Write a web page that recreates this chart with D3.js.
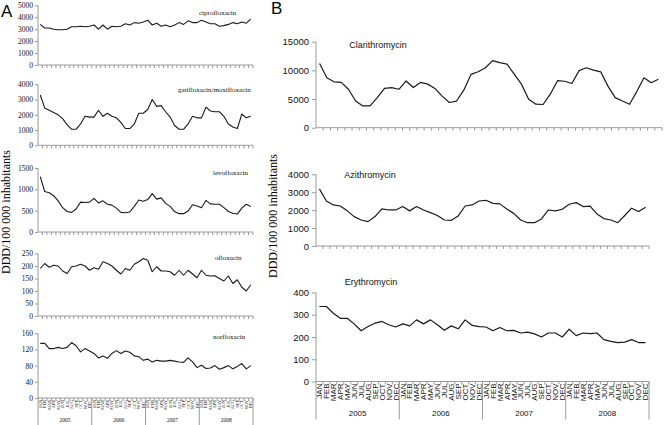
<!DOCTYPE html>
<html><head><meta charset="utf-8">
<script src="https://cdn.jsdelivr.net/npm/d3@7/dist/d3.min.js"></script>
<style>body{margin:0;background:#fff}svg{display:block}</style>
</head><body><svg id="c" width="664" height="425"></svg>
<script>
const monthNames = ["JAN","FEB","MAR","APR","MAY","JUN","JUL","AUG","SEP","OCT","NOV","DEC"];
const years = ["2005","2006","2007","2008"];
const months = years.flatMap(y => monthNames.map(m => m + "-" + y));

const cipro = [3400,3100,3100,3000,2950,2950,3000,3200,3200,3250,3200,3250,3350,3000,3350,3000,3250,3200,3250,3450,3350,3550,3500,3600,3750,3350,3500,3250,3350,3200,3350,3550,3400,3700,3550,3550,3750,3600,3450,3450,3250,3300,3400,3550,3450,3600,3500,3850];
const gati = [3300,2450,2300,2150,2000,1750,1350,1050,1050,1400,1900,1850,1850,2300,1900,2100,1900,1800,1500,1100,1100,1400,2100,2100,2350,3000,2550,2600,2200,1850,1300,1050,1050,1400,1900,1800,1800,2500,2250,2200,2200,1900,1400,1200,1100,2050,1800,1900];
const levo = [1300,950,920,850,730,570,480,460,540,700,690,700,790,680,730,650,630,560,460,450,470,600,750,720,760,900,770,800,670,600,480,430,430,490,640,610,570,740,660,650,650,570,480,440,420,560,650,600];
const oflox = [190,210,195,203,200,180,170,197,200,207,200,183,193,187,217,210,200,183,168,190,183,207,217,230,223,177,197,180,180,177,163,183,163,183,168,153,183,163,160,161,150,140,160,130,145,115,100,125];
const norflox = [135,135,122,122,125,122,125,137,129,114,122,116,110,99,104,98,110,117,110,116,113,104,102,93,96,89,93,91,91,93,91,89,88,99,89,75,81,73,74,80,71,75,80,72,78,85,72,80];

const clari = [11200,8700,8000,7900,6700,4650,3800,3800,5250,6850,7000,6700,8150,7000,7900,7600,6850,5500,4400,4650,6550,9300,9750,10450,11700,11350,11100,9350,7600,4950,4100,4050,5850,8200,8100,7700,9950,10450,10050,9750,7250,5250,4650,4100,6300,8700,7850,8450];
const azi = [3170,2510,2290,2230,1960,1640,1450,1360,1640,2070,2010,2010,2200,1960,2200,2010,1860,1700,1450,1430,1680,2230,2290,2510,2550,2380,2350,2070,1820,1450,1300,1300,1510,2010,1960,2050,2330,2420,2200,2230,1790,1530,1450,1300,1700,2110,1920,2160];
const ery = [337,337,307,284,284,259,228,247,262,270,255,245,259,250,277,259,277,255,230,250,237,277,252,247,245,228,243,228,230,218,222,214,200,218,218,200,235,206,218,215,218,188,180,175,177,188,175,175];

const ticksCipro = [0,1000,2000,3000,4000,5000];
const ticksGati = [0,1000,2000,3000,4000];
const ticksLevo = [0,500,1000,1500];
const ticksOflox = [0,50,100,150,200,250];
const ticksNorflox = [0,40,80,120,160];
const ticksClari = [0,5000,10000,15000];
const ticksAzi = [0,1000,2000,3000,4000];
const ticksEry = [0,100,200,300,400];

const svg = d3.select("#c");
const SERIF = "'Liberation Serif','Times New Roman',serif";
const SANS = "'Liberation Sans',Arial,sans-serif";
const AX = "#9a9a9a";

function drawChart(o) {
  const g = svg.append("g");
  const x = d3.scaleBand().domain(months).range([o.x0, o.x1]);
  const y = d3.scaleLinear().domain([0, o.max]).range([o.yBot, o.yTop]);
  const ya = g.append("g").attr("transform", `translate(${o.x0},0)`)
    .call(d3.axisLeft(y).tickValues(o.ticks).tickSize(o.tick).tickPadding(o.pad).tickFormat(d3.format("d")));
  ya.select(".domain").attr("stroke", AX).attr("d", `M0,${o.yBot}V${o.yTop}`);
  ya.selectAll(".tick line").attr("stroke", AX);
  ya.selectAll("text").attr("font-family", o.font).attr("font-size", o.fs).attr("fill", "#111");
  const xa = g.append("g").attr("transform", `translate(0,${o.yBot})`);
  xa.append("line").attr("x1", o.x0).attr("x2", o.x1).attr("stroke", AX);
  xa.selectAll("line.t").data(months.slice(1)).join("line").attr("class", "t")
    .attr("x1", d => x(d)).attr("x2", d => x(d)).attr("y1", 0).attr("y2", o.xt).attr("stroke", AX);
  xa.append("line").attr("x1", o.x1).attr("x2", o.x1).attr("y1", 0).attr("y2", o.xt).attr("stroke", AX);
  if (o.labels) {
    const la = g.append("g").attr("transform", `translate(0,${o.yBot})`)
      .call(d3.axisBottom(x).tickSize(0).tickPadding(0).tickFormat(d => d.split("-")[0]));
    la.select(".domain").remove();
    la.selectAll("text").attr("font-family", o.font).attr("font-size", o.mfs).attr("fill", "#111")
      .attr("text-anchor", "end").attr("dy", "0.35em")
      .attr("transform", `translate(0,${o.mpad}) rotate(-90)`).attr("x", 0).attr("y", 0);
    const yb = years.map((yr, i) => ({yr, a: x(monthNames[0] + "-" + yr), b: i < 3 ? x(monthNames[0] + "-" + years[i + 1]) : o.x1}));
    g.selectAll("line.sep").data([...yb.map(d => d.a), o.x1]).join("line").attr("class","sep")
      .attr("x1", d => d).attr("x2", d => d).attr("y1", o.yBot).attr("y2", o.sepEnd).attr("stroke", AX);
    g.selectAll("text.yr").data(yb).join("text").attr("class","yr")
      .attr("x", d => (d.a + d.b) / 2).attr("y", o.yearY).attr("text-anchor", "middle")
      .attr("font-family", o.font).attr("font-size", o.yfs).attr("fill", "#111").text(d => d.yr);
  }
  const line = d3.line().x((d, i) => x(months[i]) + x.bandwidth() / 2).y(d => y(d));
  g.append("path").datum(o.data).attr("d", line).attr("fill", "none")
    .attr("stroke", "#1a1a1a").attr("stroke-width", o.sw).attr("stroke-linejoin", "round");
  g.append("text").attr("x", o.tx).attr("y", o.ty).attr("text-anchor", o.ta)
    .attr("font-family", o.font).attr("font-size", o.tfs).attr("fill", "#111").text(o.title);
}

const A = {x0: 38, x1: 253, font: SERIF, fs: 7.5, tick: 3, pad: 2, xt: 3, sw: 1.1, tfs: 7, ta: "start"};
drawChart({...A, data: cipro, max: 5000, ticks: ticksCipro, yTop: 5.3, yBot: 65, title: "ciprofloxacin", tx: 199, ty: 15});
drawChart({...A, data: gati, max: 4000, ticks: ticksGati, yTop: 84.3, yBot: 145.3, title: "gatifloxacin/moxifloxacin", tx: 178, ty: 92});
drawChart({...A, data: levo, max: 1500, ticks: ticksLevo, yTop: 168, yBot: 232, title: "levofloxacin", tx: 213, ty: 175});
drawChart({...A, data: oflox, max: 250, ticks: ticksOflox, yTop: 253.5, yBot: 316, title: "ofloxacin", tx: 215, ty: 260});
drawChart({...A, data: norflox, max: 160, ticks: ticksNorflox, yTop: 333.2, yBot: 398, title: "norfloxacin", tx: 213, ty: 339,
  labels: true, mfs: 4.3, mpad: 2, sepEnd: 425, yearY: 422, yfs: 5.5});

const B = {x0: 316, x1: 649, font: SANS, fs: 9.5, tick: 4, pad: 3, xt: 3, sw: 1.2, tfs: 9, ta: "middle"};
drawChart({...B, x1: 662, data: clari, max: 15000, ticks: ticksClari, yTop: 41.7, yBot: 127.7, title: "Clarithromycin", tx: 378, ty: 48});
drawChart({...B, data: azi, max: 4000, ticks: ticksAzi, yTop: 174.3, yBot: 246, title: "Azithromycin", tx: 370, ty: 177.5});
drawChart({...B, data: ery, max: 400, ticks: ticksEry, yTop: 292.5, yBot: 381.5, title: "Erythromycin", tx: 371, ty: 285,
  labels: true, mfs: 8, mpad: 2, sepEnd: 419.5, yearY: 416, yfs: 8});

svg.append("text").attr("x", 1).attr("y", 17).attr("font-family", SANS).attr("font-size", 17).text("A");
svg.append("text").attr("x", 271).attr("y", 14).attr("font-family", SANS).attr("font-size", 17).text("B");
svg.append("text").attr("transform", "translate(10,212) rotate(-90)").attr("text-anchor", "middle")
  .attr("font-family", SERIF).attr("font-size", 12).text("DDD/100 000 inhabitants");
svg.append("text").attr("transform", "translate(277,216) rotate(-90)").attr("text-anchor", "middle")
  .attr("font-family", SERIF).attr("font-size", 12).text("DDD/100 000 inhabitants");
</script></body></html>
